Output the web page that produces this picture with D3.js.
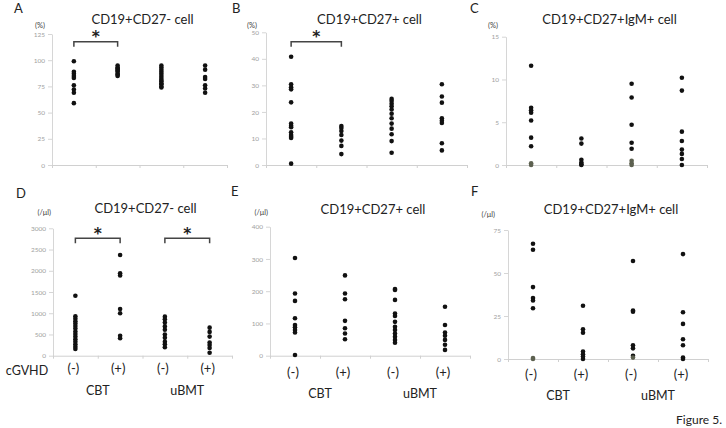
<!DOCTYPE html>
<html><head><meta charset="utf-8">
<script src="https://cdn.jsdelivr.net/npm/d3@7"></script>
<style>
html,body{margin:0;padding:0;background:#fff;}
svg{display:block;font-family:Lato,"Liberation Sans",sans-serif;}
</style></head>
<body><svg id="c" width="726" height="428"></svg>
<script>
// ---- data ----
const groupLabels = ["(-)", "(+)", "(-)", "(+)"];
const transplantLabels = ["CBT", "uBMT"];
const panelLetters = ["A", "B", "C", "D", "E", "F"];
const panelTitles = ["CD19+CD27- cell", "CD19+CD27+ cell", "CD19+CD27+IgM+ cell",
                     "CD19+CD27- cell", "CD19+CD27+ cell", "CD19+CD27+IgM+ cell"];
const unitLabels = ["(%)", "(%)", "(%)", "(/μl)", "(/μl)", "(/μl)"];
const ticksA = [0, 25, 50, 75, 100, 125];
const ticksB = [0, 10, 20, 30, 40, 50];
const ticksC = [0, 5, 10, 15];
const ticksD = [0, 500, 1000, 1500, 2000, 2500, 3000];
const ticksE = [0, 100, 200, 300, 400];
const ticksF = [0, 25, 50, 75];

const valuesA = [
  [99, 89, 87, 85, 83, 76, 72, 69, 59],
  [95, 93, 92, 91, 90, 89, 87, 86, 85],
  [95, 93, 91, 89, 87, 85, 83, 81, 80, 78, 77, 75, 74],
  [95, 91, 84, 82, 76, 73, 69]
];
const valuesB = [
  [40.8, 30.4, 29.3, 28.5, 23.6, 15.6, 14.8, 14.2, 12.3, 11.3, 10.6, 10.2, 0.5],
  [14.7, 13.9, 12.8, 11.3, 9.2, 7.2, 4.1],
  [24.9, 24.1, 23.1, 22.1, 20.9, 19.3, 17.6, 15.6, 13.7, 11.6, 9.0, 4.6],
  [30.4, 25.8, 23.5, 17.6, 16.7, 15.8, 8.2, 5.5]
];
const valuesC = [
  [11.6, 6.7, 6.4, 6.1, 5.2, 3.2, 2.2, 0.2, 0],
  [3.1, 2.5, 0.6, 0.3, 0.1, 0],
  [9.5, 7.9, 4.7, 2.6, 1.9, 0.5, 0.2, 0],
  [10.2, 8.7, 3.9, 2.8, 1.8, 1.3, 0.7, 0]
];
const valuesD = [
  [1410, 930, 870, 810, 760, 700, 640, 570, 510, 450, 390, 330, 270, 210, 160],
  [2370, 1940, 1890, 1100, 1000, 470, 410],
  [920, 860, 780, 690, 610, 500, 420, 330, 270, 200],
  [660, 560, 450, 310, 250, 180, 70]
];
const valuesE = [
  [303, 193, 170, 116, 95, 88, 80, 72, 2],
  [249, 193, 175, 108, 85, 69, 51],
  [207, 204, 173, 131, 123, 105, 90, 80, 69, 59, 49, 40],
  [152, 95, 72, 62, 49, 34, 18]
];
const valuesF = [
  [67, 63.5, 41.8, 35.4, 34, 29.5, 0.6, 0],
  [31, 17.3, 15.3, 4.3, 2.7, 1.4, 0],
  [57, 28.2, 27.5, 8, 6.2, 1.9, 0.8],
  [61, 27.2, 20.4, 11.5, 8, 0.8, 0]
];
// significance brackets: [panel index, group a, group b]
const signif = [[0, 0, 1], [1, 0, 1], [3, 0, 1], [3, 2, 3]];

// ---- layout ----
const layout = [
  {x0: 52,  x1: 227, y0: 165,   y1: 34,    letter: [14, 13],   unit: [45, 28],    title: 19,  brY: 41.7},
  {x0: 266, x1: 467, y0: 165,   y1: 32.3,  letter: [232, 13],  unit: [257, 28],   title: 19,  brY: 41.7},
  {x0: 506, x1: 707, y0: 165,   y1: 36.7,  letter: [470, 13],  unit: [498, 28],   title: 19,  brY: 0},
  {x0: 53,  x1: 232, y0: 355.7, y1: 228.3, letter: [16, 198],  unit: [51, 215],   title: 208, brY: 238.3, lab: 373, grp: 395},
  {x0: 270, x1: 470, y0: 355.7, y1: 226.7, letter: [231, 196], unit: [268, 215],  title: 209, brY: 0, lab: 377, grp: 398},
  {x0: 508, x1: 708, y0: 359,   y1: 230,   letter: [471, 196], unit: [495, 217],  title: 209, brY: 0, lab: 379, grp: 400}
];
const allValues = [valuesA, valuesB, valuesC, valuesD, valuesE, valuesF];
const allTicks = [ticksA, ticksB, ticksC, ticksD, ticksE, ticksF];

const svg = d3.select("#c");
const scales = [];

layout.forEach((L, p) => {
  const ticks = allTicks[p];
  const y = d3.scaleLinear().domain([0, d3.max(ticks)]).range([L.y0, L.y1]);
  const x = d3.scaleBand().domain([0, 1, 2, 3]).range([L.x0, L.x1]);
  const xb = d3.scaleLinear().domain([0, 4]).range([L.x0, L.x1]);
  scales.push({x, y});
  const g = svg.append("g");

  // y axis
  const ya = g.append("g").attr("transform", `translate(${L.x0},0)`)
    .call(d3.axisLeft(y).tickValues(ticks).tickFormat(d3.format("d"))
      .tickSize(4).tickSizeOuter(0).tickPadding(3));
  ya.select(".domain").attr("stroke", "#d6d6d6");
  ya.selectAll(".tick line").attr("stroke", "#d6d6d6");
  ya.selectAll(".tick text").attr("fill", "#a0a0a0").style("font-size", "6.5px")
    .style("font-family", "Lato, sans-serif");

  // x axis
  const xa = g.append("g").attr("transform", `translate(0,${L.y0})`)
    .call(d3.axisBottom(xb).tickValues([0, 1, 2, 3, 4]).tickFormat("").tickSize(3).tickSizeOuter(0));
  xa.select(".domain").attr("stroke", "#d0d0d0");
  xa.selectAll(".tick line").attr("stroke", "#d0d0d0");

  // titles and labels
  g.append("text").attr("x", (L.x0 + L.x1) / 2 + 3).attr("y", L.title + 4.5)
    .attr("text-anchor", "middle").attr("fill", "#222").style("font-size", "13px")
    .text(panelTitles[p]);
  g.append("text").attr("x", L.letter[0]).attr("y", L.letter[1])
    .attr("fill", "#222").style("font-size", "13px").text(panelLetters[p]);
  g.append("text").attr("x", L.unit[0]).attr("y", L.unit[1])
    .attr("text-anchor", "end").attr("fill", "#444").style("font-size", "7.5px")
    .text(unitLabels[p]);

  // dots
  allValues[p].forEach((vals, gi) => {
    g.selectAll(null).data(vals).enter().append("circle")
      .attr("cx", x(gi) + x.bandwidth() / 2)
      .attr("cy", d => y(d))
      .attr("r", 2.3)
      .attr("fill", d => ((p === 2 || p === 5) && gi % 2 === 0 && d <= 1) ? "#5d6150" : "#111");
  });

  // category labels (bottom row)
  if (p >= 3) {
    groupLabels.forEach((t, gi) => {
      g.append("text").attr("x", x(gi) + x.bandwidth() / 2 - 2).attr("y", L.lab)
        .attr("text-anchor", "middle").attr("fill", "#222").style("font-size", "13px").text(t);
    });
    transplantLabels.forEach((t, ti) => {
      const cx = (x(ti * 2) + x(ti * 2 + 1) + x.bandwidth()) / 2;
      g.append("text").attr("x", cx).attr("y", L.grp)
        .attr("text-anchor", "middle").attr("fill", "#222").style("font-size", "12.5px").text(t);
    });
  }
});

// cGVHD label
svg.append("text").attr("x", 27).attr("y", 375).attr("text-anchor", "middle")
  .attr("fill", "#222").style("font-size", "12.5px").text("cGVHD");

// significance brackets
signif.forEach(([p, a, b]) => {
  const {x} = scales[p];
  const L = layout[p];
  const xa = x(a) + x.bandwidth() / 2, xbb = x(b) + x.bandwidth() / 2;
  svg.append("path")
    .attr("d", `M${xa},${L.brY + 5}V${L.brY}H${xbb}V${L.brY + 5}`)
    .attr("fill", "none").attr("stroke", "#444").attr("stroke-width", 1.5);
  svg.append("text").attr("x", (xa + xbb) / 2).attr("y", L.brY + 0.5)
    .attr("text-anchor", "middle").attr("fill", "#222")
    .style("font-family", "'DejaVu Sans', sans-serif").style("font-size", "15.5px")
    .style("font-weight", "bold")
    .text("*");
});

svg.append("text").attr("x", 722).attr("y", 424).attr("text-anchor", "end")
  .attr("fill", "#222").style("font-size", "12px").text("Figure 5.");
</script>
</body></html>
